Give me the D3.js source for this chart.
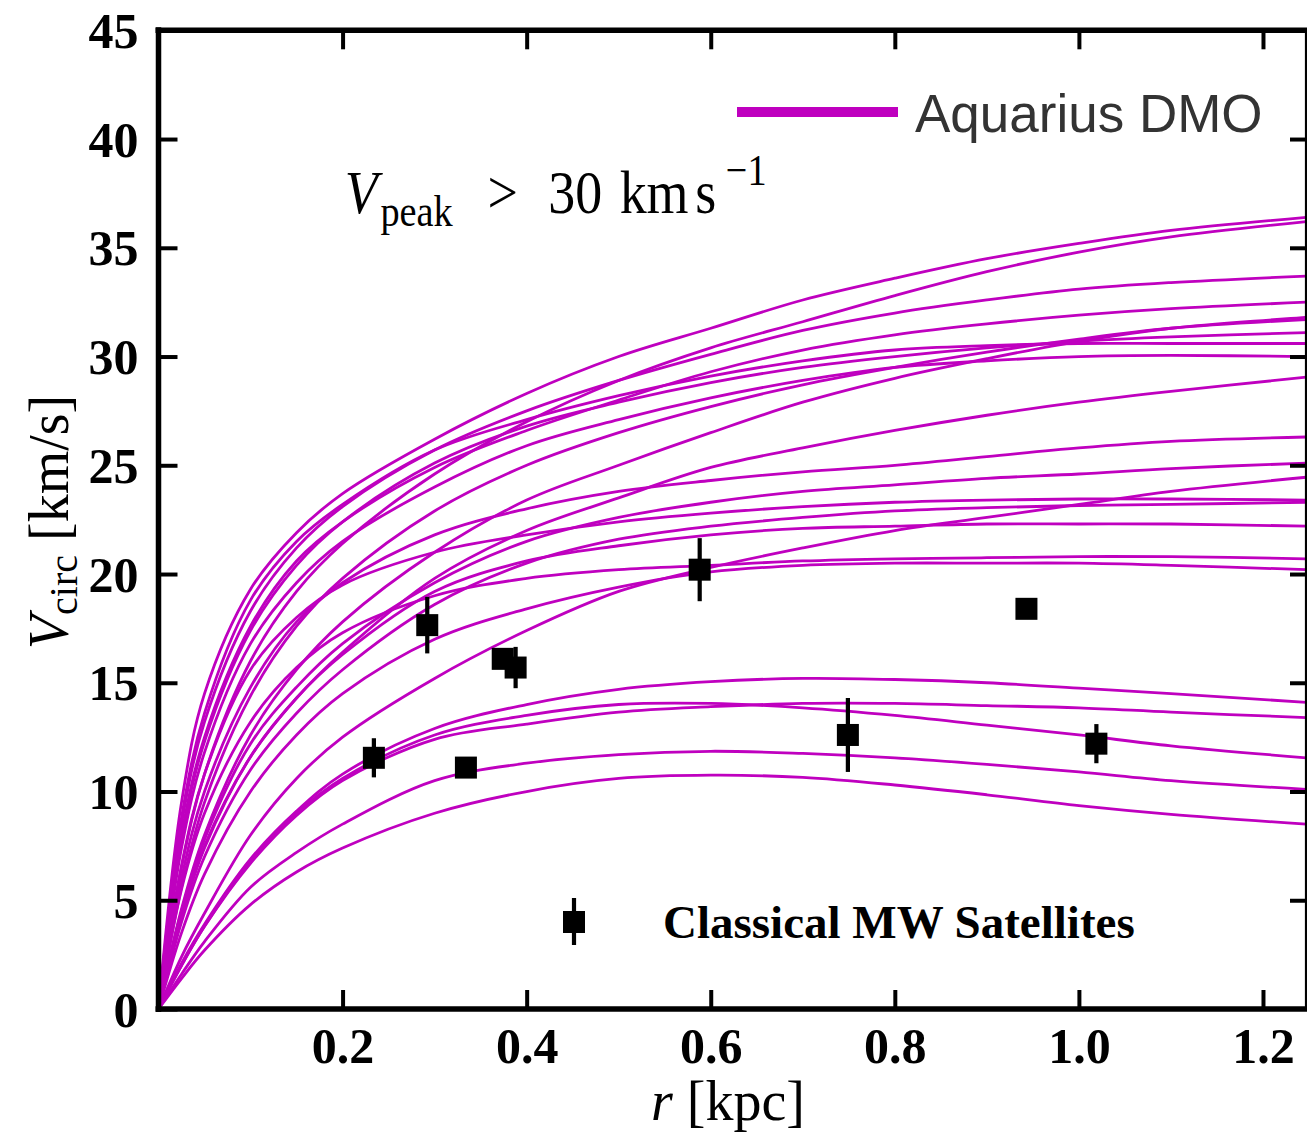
<!DOCTYPE html>
<html>
<head>
<meta charset="utf-8">
<script src="https://cdn.jsdelivr.net/npm/d3@7"></script>
<style>
  html, body { margin: 0; padding: 0; background: #fff; }
  svg { display: block; }
</style>
</head>
<body>
<svg id="chart" width="1307" height="1145"></svg>
<script>
// ---------------- DATA ----------------
// radii (kpc) at which the circular-velocity curves were read
const radii = [0, 0.025, 0.05, 0.1, 0.15, 0.2, 0.3, 0.4, 0.5, 0.6, 0.7, 0.8, 0.9, 1.0, 1.1, 1.247];

// Aquarius DMO subhalo rotation curves, V_circ in km/s (one array per subhalo)
const haloA = [0, 9.5, 14.5, 19.3, 21.9, 23.7, 26.2, 28.3, 30.0, 31.3, 32.6, 33.6, 34.5, 35.2, 35.8, 36.4];
const haloB = [0, 6.5, 10.8, 16.0, 19.2, 21.4, 24.6, 27.0, 28.9, 30.4, 31.6, 32.8, 33.9, 34.8, 35.5, 36.2];
const haloC = [0, 8.5, 13.2, 18.3, 21.2, 23.1, 25.7, 27.5, 28.9, 30.1, 31.2, 32.0, 32.6, 33.1, 33.4, 33.7];
const haloD = [0, 8.0, 12.5, 17.6, 20.6, 22.4, 24.9, 26.6, 28.0, 29.3, 30.3, 31.0, 31.5, 31.9, 32.2, 32.5];
const haloE = [0, 4.6, 8.0, 12.6, 15.6, 17.8, 21.0, 23.4, 25.0, 26.5, 27.9, 29.0, 29.9, 30.7, 31.3, 31.8];
const haloF = [0, 5.6, 9.5, 14.4, 17.6, 19.8, 22.9, 25.0, 26.5, 27.7, 28.7, 29.5, 30.2, 30.8, 31.3, 31.7];
const haloG = [0, 7.8, 12.3, 17.4, 20.4, 22.4, 25.1, 26.8, 27.9, 28.8, 29.5, 30.0, 30.4, 30.7, 30.9, 31.1];
const haloH = [0, 8.8, 13.6, 18.8, 21.5, 23.2, 25.7, 27.1, 28.2, 29.1, 29.8, 30.3, 30.5, 30.6, 30.6, 30.6];
const haloI = [0, 7.4, 11.8, 16.8, 19.6, 21.5, 24.0, 25.9, 27.1, 28.1, 28.9, 29.5, 29.8, 30.0, 30.05, 30.0];
const haloJ = [0, 4.2, 7.4, 11.6, 14.3, 16.4, 19.8, 22.0, 23.5, 24.9, 25.8, 26.6, 27.3, 27.9, 28.4, 29.05];
const haloK = [0, 6.0, 10.0, 14.8, 17.8, 19.6, 21.8, 23.0, 23.8, 24.3, 24.7, 25.0, 25.4, 25.8, 26.1, 26.3];
const haloL = [0, 4.5, 7.8, 12.2, 14.8, 16.8, 19.6, 21.5, 22.6, 23.3, 23.8, 24.1, 24.4, 24.6, 24.85, 25.1];
const haloM = [0, 2.4, 4.4, 8.0, 10.6, 12.5, 15.2, 17.4, 19.2, 20.3, 21.2, 22.0, 22.6, 23.2, 23.8, 24.45];
const haloN = [0, 6.6, 10.8, 15.6, 18.0, 19.5, 21.0, 21.8, 22.4, 22.8, 23.1, 23.3, 23.4, 23.45, 23.45, 23.4];
const haloO = [0, 4.0, 7.0, 11.0, 13.6, 15.6, 18.6, 20.5, 21.6, 22.2, 22.6, 22.9, 23.05, 23.15, 23.2, 23.3];
const haloP = [0, 4.3, 7.5, 11.6, 14.3, 16.3, 19.2, 20.6, 21.3, 21.8, 22.1, 22.2, 22.3, 22.3, 22.3, 22.2];
const haloQ = [0, 5.5, 9.0, 13.2, 15.7, 17.3, 19.0, 19.8, 20.2, 20.4, 20.6, 20.7, 20.75, 20.8, 20.8, 20.7];
const haloR = [0, 3.5, 6.2, 10.0, 12.6, 14.5, 17.0, 18.4, 19.4, 20.1, 20.4, 20.5, 20.5, 20.5, 20.4, 20.2];
const haloS = [0, 2.1, 3.9, 6.9, 9.1, 10.8, 12.9, 14.0, 14.7, 15.05, 15.2, 15.15, 15.0, 14.75, 14.5, 14.1];
const haloT = [0, 2.0, 3.8, 6.7, 8.9, 10.5, 12.4, 13.1, 13.65, 13.9, 14.05, 14.05, 13.95, 13.85, 13.65, 13.4];
const haloU = [0, 2.0, 3.8, 6.8, 9.0, 10.6, 12.6, 13.5, 14.0, 14.05, 13.85, 13.5, 13.05, 12.6, 12.1, 11.55];
const haloV = [0, 1.6, 3.1, 5.6, 7.2, 8.5, 10.5, 11.3, 11.7, 11.85, 11.75, 11.55, 11.25, 10.9, 10.5, 10.1];
const haloW = [0, 1.4, 2.7, 4.8, 6.3, 7.4, 9.0, 10.0, 10.6, 10.75, 10.65, 10.3, 9.85, 9.35, 8.95, 8.5];

// Classical MW satellites: half-light radius (kpc), V_circ (km/s), 1-sigma error (km/s)
const satR   = [0.234, 0.292, 0.334, 0.374, 0.388, 0.588, 0.749, 0.943, 1.019];
const satV   = [11.55, 17.65, 11.1, 16.1, 15.7, 20.2, 12.6, 18.4, 12.2];
const satErr = [0.9, 1.3, 0.35, 0.3, 0.95, 1.45, 1.7, 0.3, 0.9];

const xTicks = [0.2, 0.4, 0.6, 0.8, 1.0, 1.2];
const yTicks = [0, 5, 10, 15, 20, 25, 30, 35, 40, 45];

// ---------------- DRAW ----------------
const halos = [haloA, haloB, haloC, haloD, haloE, haloF, haloG, haloH, haloI, haloJ, haloK, haloL,
               haloM, haloN, haloO, haloP, haloQ, haloR, haloS, haloT, haloU, haloV, haloW];

const svg = d3.select("#chart");
const x = d3.scaleLinear().domain([0, 1.25]).range([158.5, 1309]);
const y = d3.scaleLinear().domain([0, 45]).range([1009, 30.3]);
const magenta = "#bf00bf";

svg.append("defs").append("clipPath").attr("id", "plotclip")
  .append("rect").attr("x", x(0)).attr("y", y(45)).attr("width", x(1.25) - x(0)).attr("height", y(0) - y(45));

const line = d3.line().x(d => x(d[0])).y(d => y(d[1])).curve(d3.curveCatmullRom.alpha(0.5));
const curveG = svg.append("g").attr("clip-path", "url(#plotclip)");
halos.forEach(h => {
  curveG.append("path")
    .attr("d", line(radii.map((r, i) => [r, h[i]])))
    .attr("fill", "none").attr("stroke", magenta).attr("stroke-width", 2.8)
    .attr("stroke-linejoin", "round");
});

// satellites
const satG = svg.append("g");
satR.forEach((r, i) => {
  satG.append("line")
    .attr("x1", x(r)).attr("x2", x(r))
    .attr("y1", y(satV[i] - satErr[i])).attr("y2", y(satV[i] + satErr[i]))
    .attr("stroke", "#000").attr("stroke-width", 4.2);
  satG.append("rect")
    .attr("x", x(r) - 11).attr("y", y(satV[i]) - 11)
    .attr("width", 22).attr("height", 22).attr("fill", "#000");
});

// axes (inward ticks)
const tickFont = "'Liberation Serif', 'Times New Roman', serif";
const xAxis = d3.axisBottom(x).tickValues(xTicks).tickFormat(d3.format(".1f")).tickSize(-19).tickPadding(18);
const gx = svg.append("g").attr("transform", `translate(0,${y(0)})`).call(xAxis);
const yAxis = d3.axisLeft(y).tickValues(yTicks).tickFormat(d3.format("d")).tickSize(-19).tickPadding(20);
const gy = svg.append("g").attr("transform", `translate(${x(0)},0)`).call(yAxis);
const xTop = d3.axisTop(x).tickValues(xTicks).tickFormat("").tickSize(-19);
svg.append("g").attr("transform", `translate(0,${y(45)})`).call(xTop);
const yRight = d3.axisRight(y).tickValues(yTicks.slice(1, -1)).tickFormat("").tickSize(-19);
svg.append("g").attr("transform", `translate(${x(1.25)},0)`).call(yRight);

svg.selectAll(".domain").remove();
svg.selectAll(".tick line").attr("stroke", "#000").attr("stroke-width", 4);
svg.selectAll(".tick text").attr("font-family", tickFont).attr("font-weight", "bold")
  .attr("font-size", 50).attr("fill", "#000");
gy.selectAll(".tick text").attr("dy", "0.34em");

// frame
svg.append("line").attr("x1", x(0)).attr("x2", x(0)).attr("y1", y(45) - 3).attr("y2", y(0) + 3)
  .attr("stroke", "#000").attr("stroke-width", 5.5);
svg.append("line").attr("x1", x(0) - 3).attr("x2", 1307).attr("y1", y(0)).attr("y2", y(0))
  .attr("stroke", "#000").attr("stroke-width", 5.5);
svg.append("line").attr("x1", x(0) - 3).attr("x2", 1307).attr("y1", y(45)).attr("y2", y(45))
  .attr("stroke", "#000").attr("stroke-width", 5.5);
svg.append("line").attr("x1", 1306).attr("x2", 1306).attr("y1", y(45)).attr("y2", y(0))
  .attr("stroke", "#000").attr("stroke-width", 2.2);

// axis labels
const mathFont = "'Liberation Serif', 'Times New Roman', serif";
const xl = svg.append("text").attr("x", 728).attr("y", 1120).attr("text-anchor", "middle")
  .attr("font-family", mathFont).attr("font-size", 56).attr("fill", "#000");
xl.append("tspan").attr("font-style", "italic").text("r");
xl.append("tspan").text(" [kpc]");

const yl = svg.append("text").attr("transform", "translate(68,522) rotate(-90)").attr("text-anchor", "middle")
  .attr("font-family", mathFont).attr("font-size", 56).attr("fill", "#000");
yl.append("tspan").attr("font-style", "italic").text("V");
yl.append("tspan").attr("font-size", 40).attr("dy", 9).text("circ");
yl.append("tspan").attr("dy", -9).text(" [km/s]");

// annotation (slightly condensed horizontally, like the original math text)
const ann = svg.append("text").attr("transform", "translate(343,213) scale(0.87,1)")
  .attr("font-family", mathFont).attr("font-size", 62).attr("fill", "#000");
ann.append("tspan").attr("x", 2).attr("y", 0).attr("font-style", "italic").text("V");
ann.append("tspan").attr("x", 43).attr("font-size", 44).attr("dy", 13).text("peak");
ann.append("tspan").attr("x", 166).attr("dy", -13).text(">");
ann.append("tspan").attr("x", 236).text("30");
ann.append("tspan").attr("x", 318).text("km");
ann.append("tspan").attr("x", 405).text("s");
ann.append("tspan").attr("x", 440).attr("font-size", 44).attr("dy", -28).text("−1");

// legend: Aquarius DMO
svg.append("line").attr("x1", 737).attr("x2", 898).attr("y1", 112).attr("y2", 112)
  .attr("stroke", magenta).attr("stroke-width", 10);
svg.append("text").attr("x", 915).attr("y", 132)
  .attr("font-family", "'Liberation Sans', Arial, sans-serif").attr("font-size", 53)
  .attr("fill", "#333").text("Aquarius DMO");

// legend: satellites
svg.append("line").attr("x1", 574).attr("x2", 574).attr("y1", 898).attr("y2", 945)
  .attr("stroke", "#000").attr("stroke-width", 4.2);
svg.append("rect").attr("x", 563).attr("y", 911).attr("width", 22).attr("height", 22).attr("fill", "#000");
svg.append("text").attr("x", 663).attr("y", 938)
  .attr("font-family", tickFont).attr("font-weight", "bold").attr("font-size", 47)
  .attr("fill", "#000").text("Classical MW Satellites");
</script>
</body>
</html>
